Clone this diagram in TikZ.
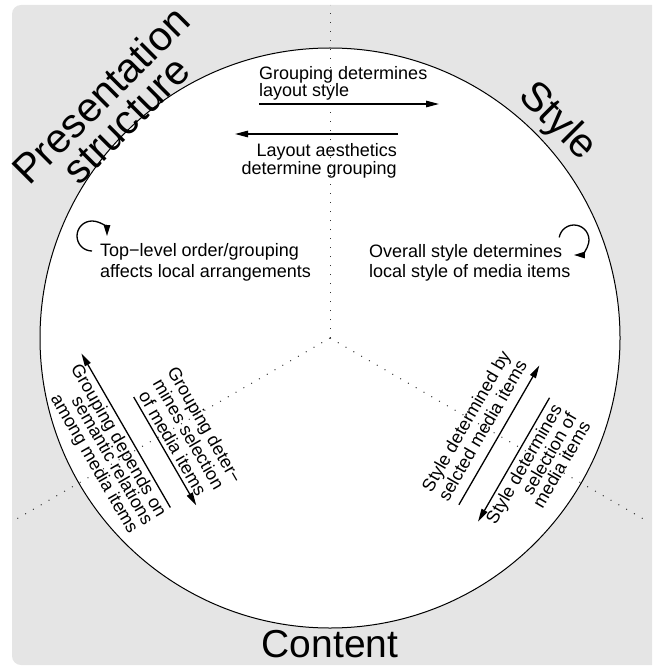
\documentclass[tikz,border=0pt]{standalone}
\usepackage{fontspec}
\setmainfont{Liberation Sans}
\usetikzlibrary{arrows.meta}
\definecolor{bg}{HTML}{E5E5E5}
\begin{document}
\begin{tikzpicture}[x=1pt,y=-1pt,
  lbl/.style={inner sep=0pt, font=\fontsize{18}{20}\selectfont},
  big/.style={inner sep=0pt, font=\fontsize{41}{45}\selectfont},
  arr/.style={line width=1.3pt, -{Triangle[length=13pt,width=6.5pt]}},
  rarr/.style={line width=1.3pt, -{Triangle[length=11pt,width=6.5pt]}},
  dotline/.style={line width=1pt, dash pattern=on 1pt off 8pt, black!80},
]
\useasboundingbox (0,0) rectangle (652,668);
\clip (0,0) rectangle (652,668);
\fill[bg, rounded corners=9pt] (12,5) rectangle (675,665);
\coordinate (O) at (330,338);
\draw[line width=1pt, fill=white] (O) circle[radius=290pt];
\coordinate (top) at (330,5);
\coordinate (dl) at (12.2,521.5);
\coordinate (dr) at (647.8,521.5);
\draw[dotline] (O) -- (top);
\draw[dotline] (O) -- (dl);
\draw[dotline] (O) -- (dr);

% top texts
\node[lbl, anchor=base west] (g1) at (259,79.5) {Grouping determines};
\node[lbl, anchor=base west] (g2) at (259,97) {layout style};
\coordinate (a1s) at (259,104); \coordinate (a1e) at (439,104);
\draw[arr] (a1s) -- (a1e);
\coordinate (a2s) at (398,134); \coordinate (a2e) at (235,134);
\draw[arr] (a2s) -- (a2e);
\node[lbl, anchor=base east] (l1) at (397,157) {Layout aesthetics};
\node[lbl, anchor=base east] (l2) at (397,175) {determine grouping};

% local loops
\node[lbl, anchor=base west] (t1) at (100,256) {Top−level order/grouping};
\node[lbl, anchor=base west] (t2) at (100,277) {affects local arrangements};
\coordinate (c1) at (92,251);
\draw[rarr] (c1) arc[start angle=-90, end angle=-360, radius=15pt];

\node[lbl, anchor=base west] (s1) at (369,257) {Overall style determines};
\node[lbl, anchor=base west] (s2) at (369,277) {local style of media items};
\coordinate (c2) at (559.2,237.4);
\draw[rarr] (c2) arc[start angle=-190, end angle=-450, radius=15pt];

% big labels
\node[big, rotate=45, anchor=base] (ps1) at (111,105) {Presentation};
\node[big, rotate=45, anchor=base] (ps2) at (136,130) {structure};
\node[big, rotate=-45] (st) at (557,122) {Style};
\node[inner sep=0pt, font=\fontsize{39}{42}\selectfont, anchor=base] (ct) at (330,657) {Content};

% left group
\begin{scope}[shift={(330,338)}, rotate=-60, transform shape]
  \node[lbl, anchor=base] (ga1) at (12.6,158) {Grouping deter−};
  \node[lbl, anchor=base] (ga2) at (12.6,176.5) {mines selection};
  \node[lbl, anchor=base] (ga3) at (12.6,195) {of media items};
  \coordinate (bs) at (-47,199.5); \coordinate (be) at (78,199.5);
  \draw[arr] (bs) -- (be);
  \coordinate (as) at (67,223); \coordinate (ae) at (-111,223);
  \draw[arr] (as) -- (ae);
  \node[lbl, anchor=base east] (gb1) at (70,240) {Grouping depends on};
  \node[lbl, anchor=base east] (gb2) at (70,255.5) {semantic relations};
  \node[lbl, anchor=base east] (gb3) at (70,272.5) {among media items};
\end{scope}

% right group
\begin{scope}[shift={(330,338)}, rotate=60, transform shape]
  \node[lbl, anchor=base] (sc1) at (-4,165.5) {Style determined by};
  \node[lbl, anchor=base] (sc2) at (-4,184.5) {selcted media items};
  \coordinate (cs) at (-80,195); \coordinate (ce) at (81,195);
  \draw[arr] (cs) -- (ce);
  \coordinate (ds) at (58,220); \coordinate (de) at (-85,220);
  \draw[arr] (ds) -- (de);
  \node[lbl, anchor=base east] (sd1) at (55,237) {Style determines};
  \node[lbl, anchor=base east] (sd2) at (55,254) {selection of};
  \node[lbl, anchor=base east] (sd3) at (55,270) {media items};
\end{scope}
\end{tikzpicture}
\end{document}
